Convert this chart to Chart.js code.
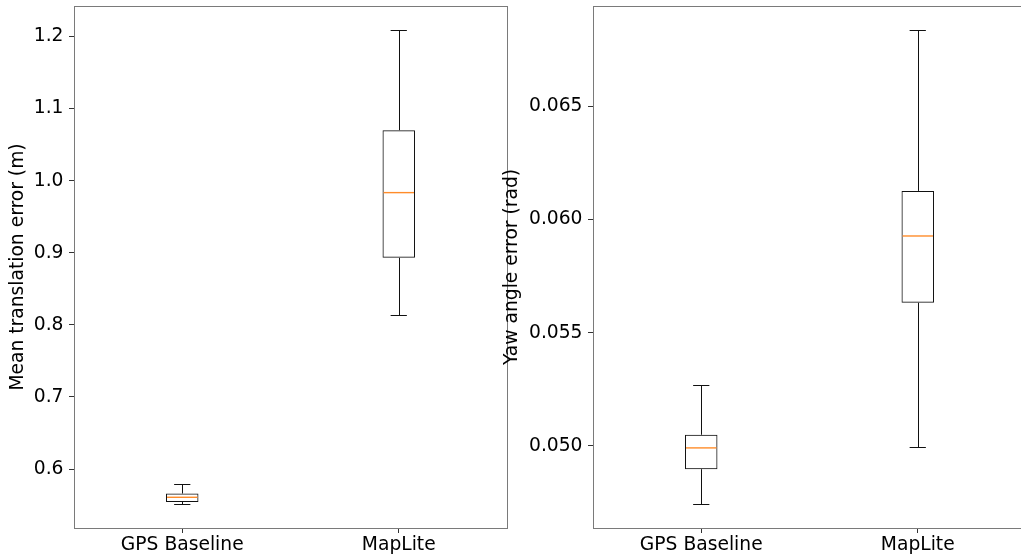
<!DOCTYPE html>
<html><head><meta charset="utf-8">
<script src="https://cdn.jsdelivr.net/npm/chart.js@4/dist/chart.umd.min.js"></script>
<style>
html,body{margin:0;padding:0;background:#fff;overflow:hidden;width:1021px;height:559px;}
#wrap{position:relative;width:1021px;height:559px;overflow:hidden;background:#fff;}
canvas{position:absolute;top:0;}
</style></head><body>
<div id="wrap">
<canvas id="c1" width="510" height="559" style="left:0px"></canvas>
<canvas id="c2" width="530" height="559" style="left:500px"></canvas>
</div>
<script>
// ---- data ----
const categories = ['GPS Baseline', 'MapLite'];

const transWhiskerLow  = [0.5512, 0.813];
const transQ1          = [0.5544, 0.893];
const transMedian      = [0.5609, 0.9834];
const transQ3          = [0.5661, 1.070];
const transWhiskerHigh = [0.5793, 1.2093];
const transTicks       = [0.6, 0.7, 0.8, 0.9, 1.0, 1.1, 1.2];
const transTickLabels  = ['0.6', '0.7', '0.8', '0.9', '1.0', '1.1', '1.2'];

const yawWhiskerLow  = [0.04742, 0.04996];
const yawQ1          = [0.04897, 0.05632];
const yawMedian      = [0.04991, 0.05927];
const yawQ3          = [0.05049, 0.06126];
const yawWhiskerHigh = [0.05269, 0.06838];
const yawTicks       = [0.050, 0.055, 0.060, 0.065];
const yawTickLabels  = ['0.050', '0.055', '0.060', '0.065'];

// ---- styling ----
const FONT = 'DejaVu Sans';
const FS = 18.7;
const BOX_W = 0.15;       // box width in category units
const CAP_W = 0.075;      // cap width in category units
const SPINE = '#7a7a7a';
const MEDIAN = '#ff8c2a';

const boxPlugin = {
  id: 'boxparts',
  afterDatasetsDraw(chart, args, opts) {
    const ctx = chart.ctx, xs = chart.scales.x, ys = chart.scales.y;
    const s = opts.stats;
    ctx.save();
    for (let i = 0; i < categories.length; i++) {
      const x = Math.round(xs.getPixelForValue(i)) + 0.5;
      const cx0 = xs.getPixelForValue(i - CAP_W / 2), cx1 = xs.getPixelForValue(i + CAP_W / 2);
      const bx0 = xs.getPixelForValue(i - BOX_W / 2), bx1 = xs.getPixelForValue(i + BOX_W / 2);
      const yLo = Math.round(ys.getPixelForValue(s.lo[i])) + 0.5;
      const yHi = Math.round(ys.getPixelForValue(s.hi[i])) + 0.5;
      const yQ1 = ys.getPixelForValue(s.q1[i]);
      const yQ3 = ys.getPixelForValue(s.q3[i]);
      const yMed = ys.getPixelForValue(s.med[i]);
      ctx.lineWidth = 1;
      ctx.strokeStyle = '#111';
      ctx.beginPath();
      ctx.moveTo(x, yQ3); ctx.lineTo(x, yHi);
      ctx.moveTo(x, yQ1); ctx.lineTo(x, yLo);
      ctx.moveTo(cx0, yHi); ctx.lineTo(cx1, yHi);
      ctx.moveTo(cx0, yLo); ctx.lineTo(cx1, yLo);
      ctx.stroke();
      ctx.lineWidth = 1.4;
      ctx.strokeStyle = MEDIAN;
      ctx.beginPath();
      ctx.moveTo(bx0 + 1, yMed); ctx.lineTo(bx1 - 1, yMed);
      ctx.stroke();
    }
    // frame
    const a = chart.chartArea;
    ctx.strokeStyle = SPINE;
    ctx.lineWidth = 1;
    ctx.strokeRect(Math.round(a.left) + 0.5, Math.round(a.top) + 0.5,
                   Math.round(a.right - a.left), Math.round(a.bottom - a.top));
    ctx.restore();
  }
};

function makeChart(id, stats, ticks, tickLabels, title, yWidth, padRight, titlePad) {
  const lo = Math.min(...stats.lo), hi = Math.max(...stats.hi);
  const margin = (hi - lo) * 0.05;
  return new Chart(document.getElementById(id), {
    type: 'bar',
    data: {
      labels: categories,
      datasets: [{
        data: categories.map((c, i) => [stats.q1[i], stats.q3[i]]),
        backgroundColor: 'rgba(0,0,0,0)',
        borderColor: '#111',
        borderWidth: 1,
        borderSkipped: false,
        barPercentage: BOX_W,
        categoryPercentage: 1
      }]
    },
    options: {
      responsive: false,
      animation: false,
      devicePixelRatio: 1,
      layout: { padding: { top: 6, right: padRight, left: 0, bottom: 0 } },
      plugins: { legend: { display: false }, tooltip: { enabled: false }, boxparts: { stats } },
      scales: {
        x: {
          type: 'category',
          offset: true,
          grid: { offset: false, drawOnChartArea: false, drawTicks: true, tickLength: 5, color: '#333' },
          border: { display: false },
          ticks: { color: '#000', font: { family: FONT, size: FS }, padding: 1, maxRotation: 0 },
          afterFit: s => { s.height = 31; s.paddingLeft = 0; s.paddingRight = 0; }
        },
        y: {
          type: 'linear',
          beginAtZero: false,
          min: lo - margin,
          max: hi + margin,
          afterBuildTicks: s => { s.ticks = ticks.map(v => ({ value: v })); },
          grid: { drawOnChartArea: false, drawTicks: true, tickLength: 5, color: '#333' },
          border: { display: false },
          ticks: {
            color: '#000', font: { family: FONT, size: FS }, padding: 5.5,
            callback: v => { const k = ticks.findIndex(t => Math.abs(t - v) < 1e-9); return k >= 0 ? tickLabels[k] : ''; }
          },
          title: { display: true, text: title, color: '#000', font: { family: FONT, size: FS }, padding: { top: titlePad, bottom: 0 } },
          afterFit: s => { s.width = yWidth; s.paddingTop = 0; s.paddingBottom = 0; }
        }
      }
    },
    plugins: [boxPlugin]
  });
}

makeChart('c1',
  { lo: transWhiskerLow, q1: transQ1, med: transMedian, q3: transQ3, hi: transWhiskerHigh },
  transTicks, transTickLabels, 'Mean translation error (m)', 74, 3, 6.8);
makeChart('c2',
  { lo: yawWhiskerLow, q1: yawQ1, med: yawMedian, q3: yawQ3, hi: yawWhiskerHigh },
  yawTicks, yawTickLabels, 'Yaw angle error (rad)', 93, 4, 0.8);
</script>
</body></html>
